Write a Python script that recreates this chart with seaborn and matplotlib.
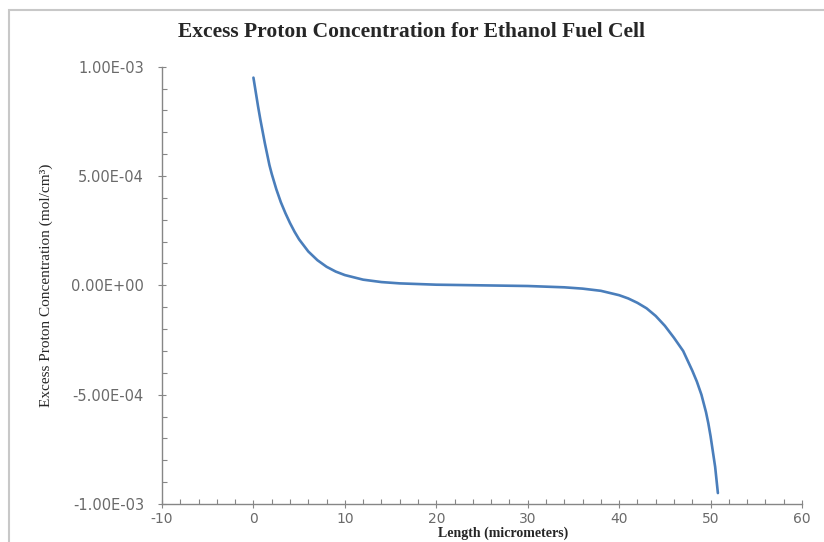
import matplotlib
matplotlib.use("Agg")
import matplotlib.pyplot as plt
import seaborn as sns
import pandas as pd
from matplotlib.ticker import MultipleLocator, FuncFormatter
from matplotlib.patches import Rectangle

# Data
length_um = [0, 0.25, 0.5, 0.75, 1, 1.25, 1.5, 1.75, 2, 2.5, 3, 3.5, 4, 4.5, 5, 6, 7, 8, 9,
             10, 12, 14, 16, 20, 25, 30, 34, 36, 38, 40, 41, 42, 43, 44, 45, 46, 47, 47.5,
             48, 48.5, 49, 49.5, 49.75, 50, 50.25, 50.5, 50.8]
excess_proton = [9.5e-4, 8.85e-4, 8.2e-4, 7.6e-4, 7.05e-4, 6.5e-4, 6.0e-4, 5.5e-4, 5.1e-4,
                 4.4e-4, 3.8e-4, 3.3e-4, 2.85e-4, 2.45e-4, 2.1e-4, 1.55e-4, 1.15e-4,
                 0.85e-4, 0.63e-4, 0.47e-4, 0.26e-4, 0.15e-4, 0.09e-4, 0.03e-4, 0.0,
                 -0.03e-4, -0.09e-4, -0.15e-4, -0.25e-4, -0.45e-4, -0.6e-4, -0.8e-4,
                 -1.05e-4, -1.4e-4, -1.85e-4, -2.4e-4, -3.0e-4, -3.45e-4, -3.9e-4, -4.4e-4,
                 -5.0e-4, -5.8e-4, -6.3e-4, -6.9e-4, -7.6e-4, -8.3e-4, -9.5e-4]
x_ticks = [-10, 0, 10, 20, 30, 40, 50, 60]
y_ticks = [-1e-3, -5e-4, 0.0, 5e-4, 1e-3]

title = "Excess Proton Concentration for Ethanol Fuel Cell"
xlabel = "Length (micrometers)"
ylabel = "Excess Proton Concentration (mol/cm³)"

df = pd.DataFrame({"x": length_um, "y": excess_proton})

sns.set_theme(style="white")
plt.rcParams["font.family"] = ["DejaVu Sans"]

W, H = 824, 542
fig = plt.figure(figsize=(W / 100, H / 100), dpi=100)
ax = fig.add_axes([162 / W, 1 - 504 / H, (802 - 162) / W, (504 - 66.7) / H])

sns.lineplot(data=df, x="x", y="y", ax=ax, color="#4a7ebb", linewidth=1.9,
             sort=False, estimator=None)

ax.set_xlim(-10, 60)
ax.set_ylim(-1e-3, 1e-3)
ax.set_xticks(x_ticks)
ax.set_yticks(y_ticks)
ax.xaxis.set_minor_locator(MultipleLocator(2))
ax.yaxis.set_minor_locator(MultipleLocator(1e-4))
ax.xaxis.set_major_formatter(FuncFormatter(lambda v, p: f"{v:g}"))
ax.yaxis.set_major_formatter(FuncFormatter(lambda v, p: f"{v:.2E}"))

spine_col = "#868686"
for s in ["top", "right"]:
    ax.spines[s].set_visible(False)
for s in ["left", "bottom"]:
    ax.spines[s].set_color(spine_col)
    ax.spines[s].set_linewidth(1.0)

ax.tick_params(axis="both", which="both", bottom=True, left=True, top=False, right=False)
ax.tick_params(axis="both", which="major", direction="inout", length=6, width=0.8,
               color=spine_col, labelsize=10.5, labelcolor="#6a6a6a")
ax.tick_params(axis="y", which="major", pad=10)
ax.tick_params(axis="x", which="major", pad=3, labelsize=10)
ax.tick_params(axis="both", which="minor", direction="in", length=3.5, width=0.8,
               color=spine_col)

ax.set_xlabel(xlabel, fontfamily="Liberation Serif", fontweight="bold", fontsize=10,
              color="#262626")
ax.xaxis.set_label_coords((503 - 162) / (802 - 162), -(526.5 - 504) / (504 - 66.7))
ax.set_ylabel(ylabel, fontfamily="Liberation Serif", fontsize=11, color="#262626")
ax.yaxis.set_label_coords(-(162 - 53) / (802 - 162), 0.5)

fig.text(412 / W, 1 - 32 / H, title, ha="center", va="center",
         fontfamily="Liberation Serif", fontweight="bold", fontsize=15.5, color="#262626")

fig.add_artist(Rectangle((9 / W, -0.1), 1.2, 1 - 10 / H + 0.1, transform=fig.transFigure,
                         fill=False, edgecolor="#c8c8c8", linewidth=1.5))

fig.savefig("out.png", dpi=100)
